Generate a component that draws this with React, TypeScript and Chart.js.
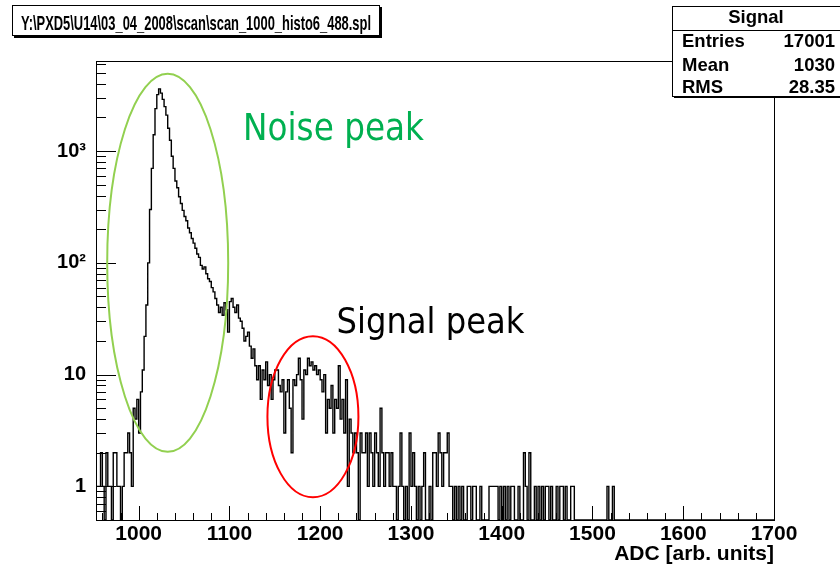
import React, { useEffect, useRef } from 'react';
import { Chart, registerables } from 'chart.js';

Chart.register(...registerables);

// ---- axis ranges and labels ----
const X_MIN = 953;
const X_MAX = 1700;
const Y_MIN = 0.5;
const Y_MAX = 6400;
const X_TICKS = [1000, 1100, 1200, 1300, 1400, 1500, 1600, 1700];
const Y_TICKS = [1, 10, 100, 1000];
const Y_TICK_LABELS = ['1', '10', '10\u00B2', '10\u00B3'];
const X_TITLE = 'ADC [arb. units]';
const TITLE = 'Y:\\PXD5\\U14\\03_04_2008\\scan\\scan_1000_histo6_488.spl';
const STATS_NAME = 'Signal';
const STATS_LABELS = ['Entries', 'Mean', 'RMS'];
const STATS_VALUES = ['17001', '1030', '28.35'];

// ---- histogram: bin width 2 ADC, first bin edge 954 ----
const BIN_WIDTH = 2;
const FIRST_EDGE = 954;
// 954 .. 1000
const preCounts = [1, 1, 2, 1, 0, 2, 1, 1, 0, 2, 2, 1, 1, 0, 1, 2, 2, 3, 2, 1, 5, 4, 6, 3];
// 1002 .. 1060 (noise peak)
const noiseCounts = [7, 11, 22, 42, 100, 300, 700, 1400, 2400, 3200, 3600, 3300, 2900, 2500, 2100, 1600,
  1250, 900, 700, 540, 470, 390, 340, 295, 260, 238, 205, 186, 165, 150];
// 1062 .. 1150 (noise tail)
const tailCounts = [135, 120, 112, 95, 88, 92, 80, 72, 68, 60, 55, 48, 42, 36, 40, 34, 44, 38, 24, 45,
  48, 40, 36, 42, 32, 30, 26, 20, 22, 24, 18, 14, 17, 12, 9, 12, 6, 11, 9, 13, 8, 10, 6, 9, 11];
// 1152 .. 1254 (signal peak)
const signalCounts = [11, 8, 7, 9, 3, 7, 9, 5, 2, 9, 8, 10, 14, 9, 4, 11, 10, 14, 12, 13, 11, 12, 10, 11,
  9, 7, 10, 3, 6, 5, 8, 3, 6, 5, 12, 4, 6, 3, 9, 1, 4, 3, 2, 3, 2, 0, 3, 2, 2, 3, 1, 3];
// 1256 .. 1522 (sparse tail)
const sparseCounts = [2, 1, 3, 2, 1, 5, 2, 1, 2, 2, 1, 2, 1, 1, 0, 1, 3, 1, 0, 1, 0, 3, 1, 2, 1, 0, 1, 0,
  1, 2, 0, 0, 1, 0, 2, 2, 1, 3, 2, 1, 2, 2, 3, 1, 1, 0, 1, 0, 1, 0, 1, 0, 0, 1, 1, 0, 1, 1, 0, 0, 1, 0,
  0, 0, 0, 1, 1, 1, 1, 1, 0, 1, 0, 1, 0, 1, 0, 1, 1, 0, 0, 1, 0, 0, 2, 1, 0, 2, 0, 0, 1, 0, 1, 0, 1, 0,
  1, 1, 0, 1, 0, 0, 1, 0, 1, 1, 0, 1, 0, 0, 1, 1, 0, 0, 0, 0, 0, 0, 0, 0, 0, 0, 0, 0, 0, 0, 0, 0, 0, 0,
  1, 0, 0, 1];

// ---- annotations (positions in data coordinates) ----
const NOISE_ELLIPSE = { x: 1032, y: 100, rx: 60.5, ry: 189 };
const SIGNAL_ELLIPSE = { x: 1192, y: 4.2, rx: 45.5, ry: 80.5 };
const NOISE_TEXT = { text: 'Noise peak', x: 1115, y: 1260 };
const SIGNAL_TEXT = { text: 'Signal peak', x: 1218, y: 23.5 };

const BOLD = '"Liberation Sans", Arial, Helvetica, sans-serif';

function buildPoints() {
  const counts = [...preCounts, ...noiseCounts, ...tailCounts, ...signalCounts, ...sparseCounts];
  // empty bins sit on the bottom of the log axis (the log scale cannot hold 0)
  const pts = counts.map((c, i) => ({ x: FIRST_EDGE + i * BIN_WIDTH, y: c > 0 ? c : Y_MIN }));
  pts.push({ x: FIRST_EDGE + counts.length * BIN_WIDTH, y: Y_MIN });
  pts.push({ x: X_MAX, y: Y_MIN });
  return pts;
}

function scaledText(ctx: CanvasRenderingContext2D, text: string, x: number, y: number, font: string,
  color: string, width: number, align: 'left' | 'right' | 'center' = 'left') {
  ctx.save();
  ctx.font = font;
  ctx.fillStyle = color;
  ctx.textBaseline = 'alphabetic';
  const w = ctx.measureText(text).width;
  const sx = width / w;
  let left = x;
  if (align === 'right') left = x - width;
  if (align === 'center') left = x - width / 2;
  ctx.translate(left, y);
  ctx.scale(sx, 1);
  ctx.textAlign = 'left';
  ctx.fillText(text, 0, 0);
  ctx.restore();
}

const rootPlugin = {
  id: 'rootStyle',
  afterDraw(chart: any) {
    const { ctx, chartArea: a, scales } = chart;
    const xs = scales.x;
    const ys = scales.y;
    ctx.save();
    // frame
    ctx.strokeStyle = '#000';
    ctx.lineWidth = 1;
    ctx.strokeRect(a.left + 0.5, a.top + 0.5, a.right - a.left, a.bottom - a.top);
    // x ticks (inside)
    ctx.beginPath();
    for (let v = 960; v <= X_MAX; v += 20) {
      const px = Math.round(xs.getPixelForValue(v)) + 0.5;
      const len = v % 100 === 0 ? 14 : 7;
      ctx.moveTo(px, a.bottom);
      ctx.lineTo(px, a.bottom - len);
    }
    // y ticks (inside)
    for (const d of [0.1, 1, 10, 100, 1000]) {
      for (let m = 1; m <= 9; m++) {
        const v = m * d;
        if (v < Y_MIN || v > Y_MAX) continue;
        const py = Math.round(ys.getPixelForValue(v)) + 0.5;
        const len = m === 1 ? 20 : 10;
        ctx.moveTo(a.left, py);
        ctx.lineTo(a.left + len, py);
      }
    }
    ctx.stroke();

    // ellipses
    ctx.lineWidth = 2;
    ctx.strokeStyle = '#92D050';
    ctx.beginPath();
    ctx.ellipse(xs.getPixelForValue(NOISE_ELLIPSE.x), ys.getPixelForValue(NOISE_ELLIPSE.y),
      NOISE_ELLIPSE.rx, NOISE_ELLIPSE.ry, 0, 0, Math.PI * 2);
    ctx.stroke();
    ctx.strokeStyle = '#FF0000';
    ctx.beginPath();
    ctx.ellipse(xs.getPixelForValue(SIGNAL_ELLIPSE.x), ys.getPixelForValue(SIGNAL_ELLIPSE.y),
      SIGNAL_ELLIPSE.rx, SIGNAL_ELLIPSE.ry, 0, 0, Math.PI * 2);
    ctx.stroke();

    // annotation texts
    scaledText(ctx, NOISE_TEXT.text, xs.getPixelForValue(NOISE_TEXT.x), ys.getPixelForValue(NOISE_TEXT.y),
      '37px "DejaVu Sans", Verdana, sans-serif', '#00B050', 181);
    scaledText(ctx, SIGNAL_TEXT.text, xs.getPixelForValue(SIGNAL_TEXT.x), ys.getPixelForValue(SIGNAL_TEXT.y),
      '36px "DejaVu Sans", Verdana, sans-serif', '#000000', 188);

    // title box
    ctx.lineWidth = 1;
    ctx.fillStyle = '#000';
    ctx.fillRect(14, 7, 368, 31);
    ctx.fillStyle = '#fff';
    ctx.fillRect(12, 5, 368, 31);
    ctx.strokeStyle = '#000';
    ctx.strokeRect(12.5, 5.5, 367, 30);
    scaledText(ctx, TITLE, 196, 29.5, `bold 21px ${BOLD}`, '#000', 350, 'center');

    // stats box
    ctx.fillStyle = '#000';
    ctx.fillRect(674, 8, 170, 90);
    ctx.fillStyle = '#fff';
    ctx.fillRect(672, 6, 170, 90);
    ctx.strokeRect(672.5, 6.5, 170, 90);
    ctx.beginPath();
    ctx.moveTo(672, 30.5);
    ctx.lineTo(840, 30.5);
    ctx.stroke();
    ctx.fillStyle = '#000';
    ctx.font = `bold 18.5px ${BOLD}`;
    ctx.textBaseline = 'alphabetic';
    ctx.textAlign = 'center';
    ctx.fillText(STATS_NAME, 756, 22.7);
    const rows = [46.7, 70.5, 93.3];
    STATS_LABELS.forEach((lab, i) => {
      ctx.textAlign = 'left';
      ctx.fillText(lab, 682, rows[i]);
      ctx.textAlign = 'right';
      ctx.fillText(STATS_VALUES[i], 835, rows[i]);
    });
    ctx.restore();
  },
};

export default function App() {
  const ref = useRef<HTMLCanvasElement>(null);
  useEffect(() => {
    if (!ref.current) return;
    const chart = new Chart(ref.current, {
      type: 'line',
      data: {
        datasets: [{
          data: buildPoints(),
          stepped: 'before',
          borderColor: '#000',
          borderWidth: 1.4,
          pointRadius: 0,
          fill: false,
          spanGaps: true,
        }],
      },
      options: {
        responsive: false,
        animation: false,
        devicePixelRatio: 1,
        layout: { padding: { top: 61, right: 66, left: 0, bottom: 0 } },
        plugins: { legend: { display: false }, tooltip: { enabled: false }, title: { display: false } },
        scales: {
          x: {
            type: 'linear',
            min: X_MIN,
            max: X_MAX,
            afterBuildTicks: (s: any) => { s.ticks = X_TICKS.map((v) => ({ value: v })); },
            afterFit: (s: any) => { s.height = 49; },
            grid: { display: false, drawTicks: false },
            border: { display: false },
            ticks: {
              autoSkip: false,
              maxRotation: 0,
              padding: 2,
              color: '#000',
              font: { family: BOLD, size: 21, weight: 'bold' },
              callback: (v: any) => String(v),
            },
            title: {
              display: true,
              text: X_TITLE,
              align: 'end',
              color: '#000',
              font: { family: BOLD, size: 21, weight: 'bold' },
              padding: { top: 0, bottom: 2 },
            },
          },
          y: {
            type: 'logarithmic',
            min: Y_MIN,
            max: Y_MAX,
            afterBuildTicks: (s: any) => { s.ticks = Y_TICKS.map((v) => ({ value: v })); },
            afterFit: (s: any) => { s.width = 96; },
            grid: { display: false, drawTicks: false },
            border: { display: false },
            ticks: {
              autoSkip: false,
              padding: 10,
              color: '#000',
              font: { family: BOLD, size: 20, weight: 'bold' },
              callback: (v: any) => {
                const i = Y_TICKS.indexOf(Number(v));
                return i >= 0 ? Y_TICK_LABELS[i] : '';
              },
            },
          },
        },
      },
      plugins: [rootPlugin],
    } as any);
    return () => chart.destroy();
  }, []);
  return (
    <div style={{ position: 'absolute', left: 0, top: 0, width: 840, height: 569, background: '#fff' }}>
      <canvas ref={ref} width={840} height={569} style={{ display: 'block' }} />
    </div>
  );
}
